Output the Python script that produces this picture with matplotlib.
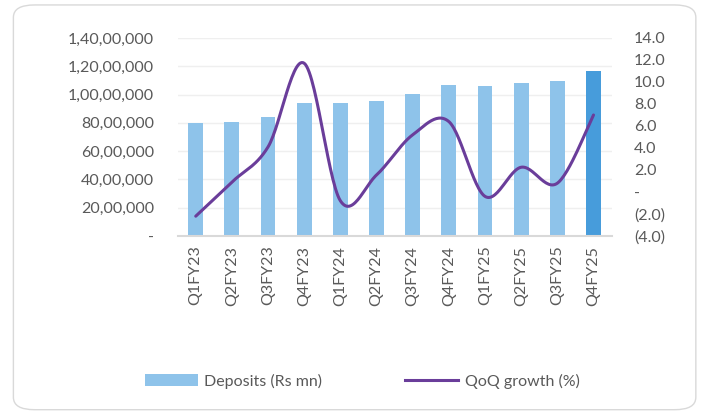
import numpy as np
import matplotlib
matplotlib.use("Agg")
import matplotlib.pyplot as plt
from matplotlib.patches import FancyBboxPatch, Patch
from matplotlib.lines import Line2D
from matplotlib.ticker import FuncFormatter, MultipleLocator

quarters = ["Q1FY23", "Q2FY23", "Q3FY23", "Q4FY23", "Q1FY24", "Q2FY24",
            "Q3FY24", "Q4FY24", "Q1FY25", "Q2FY25", "Q3FY25", "Q4FY25"]
deposits = [8000000, 8080000, 8430000, 9420000, 9380000, 9520000,
            10040000, 10690000, 10620000, 10830000, 10930000, 11680000]
qoq_growth = [-2.2, 0.9, 4.1, 11.7, -0.8, 1.55, 5.2, 6.4, -0.4, 2.25, 0.8, 7.0]

plt.rcParams['font.family'] = ['Lato', 'DejaVu Sans']
TEXT = '#595959'
FS = 11.5

def indian(v, pos=None):
    v = int(round(v))
    if v == 0:
        return '-'
    s = str(abs(v))
    if len(s) > 3:
        head, tail = s[:-3], s[-3:]
        parts = []
        while len(head) > 2:
            parts.insert(0, head[-2:])
            head = head[:-2]
        if head:
            parts.insert(0, head)
        s = ','.join(parts) + ',' + tail
    return s

def pct(v, pos=None):
    if abs(v) < 1e-9:
        return '-'
    if v < 0:
        return '({:.1f})'.format(-v)
    return '{:.1f}'.format(v)

def smooth(xs, ys, n=30):
    xs = np.asarray(xs, float); ys = np.asarray(ys, float)
    P = np.column_stack([xs, ys])
    out = []
    for i in range(len(P) - 1):
        p0 = P[i - 1] if i > 0 else P[i]
        p1 = P[i]; p2 = P[i + 1]
        p3 = P[i + 2] if i + 2 < len(P) else P[i + 1]
        c1 = p1 + (p2 - p0) / 6.0
        c2 = p2 - (p3 - p1) / 6.0
        t = np.linspace(0, 1, n)[:, None]
        seg = ((1 - t) ** 3) * p1 + 3 * ((1 - t) ** 2) * t * c1 + 3 * (1 - t) * t ** 2 * c2 + t ** 3 * p2
        out.append(seg if i == 0 else seg[1:])
    A = np.vstack(out)
    return A[:, 0], A[:, 1]

fig = plt.figure(figsize=(7.05, 4.13), dpi=100)
border = FancyBboxPatch((0.019, 0.008), 0.968, 0.98, boxstyle="round,pad=0,rounding_size=0.03",
                        transform=fig.transFigure, facecolor='white', edgecolor='#D9D9D9',
                        linewidth=1.0, zorder=-10)
fig.patches.append(border)

ax = fig.add_axes([0.252, 0.4286, 0.6155, 0.4794])
x = np.arange(len(quarters))
colors = ['#8EC3EA'] * (len(quarters) - 1) + ['#479CDB']
ax.bar(x, deposits, width=0.41, color=colors, zorder=2)
ax.set_xlim(-0.5, len(quarters) - 0.5)
ax.set_ylim(0, 14000000)
ax.yaxis.set_major_locator(MultipleLocator(2000000))
ax.yaxis.set_major_formatter(FuncFormatter(indian))
ax.grid(axis='y', color='#EFEFEF', linewidth=1.0, zorder=0)
ax.set_axisbelow(True)
ax.set_xticks(x)
ax.set_xticklabels(quarters, rotation=90)
for s in ['top', 'right', 'left']:
    ax.spines[s].set_visible(False)
ax.spines['bottom'].set_color('#D9D9D9')
ax.spines['bottom'].set_linewidth(1.5)
ax.tick_params(axis='both', length=0, colors=TEXT, labelsize=FS)
ax.tick_params(axis='y', pad=17)
ax.tick_params(axis='x', pad=7)
ax.patch.set_alpha(0)

ax2 = ax.twinx()
ax2.set_ylim(-4, 14)
ax2.yaxis.set_major_locator(MultipleLocator(2))
ax2.yaxis.set_major_formatter(FuncFormatter(pct))
sx, sy = smooth(x, qoq_growth)
ax2.plot(sx, sy, color='#6A3D9A', linewidth=2.2, solid_capstyle='round', zorder=3)
for s in ['top', 'right', 'left', 'bottom']:
    ax2.spines[s].set_visible(False)
ax2.tick_params(axis='y', length=0, colors=TEXT, labelsize=FS, pad=16)

handles = [Patch(facecolor='#8EC3EA', edgecolor='none'),
           Line2D([0], [0], color='#6A3D9A', linewidth=2.2)]
fig.legend(handles, ['Deposits (Rs mn)', 'QoQ growth (%)'], loc='center',
           bbox_to_anchor=(0.514, 0.077), ncol=2, frameon=False, fontsize=FS,
           handlelength=3.3, handleheight=0.75, columnspacing=5.2, handletextpad=0.4,
           labelcolor=TEXT)

fig.savefig('out.png', dpi=100)
